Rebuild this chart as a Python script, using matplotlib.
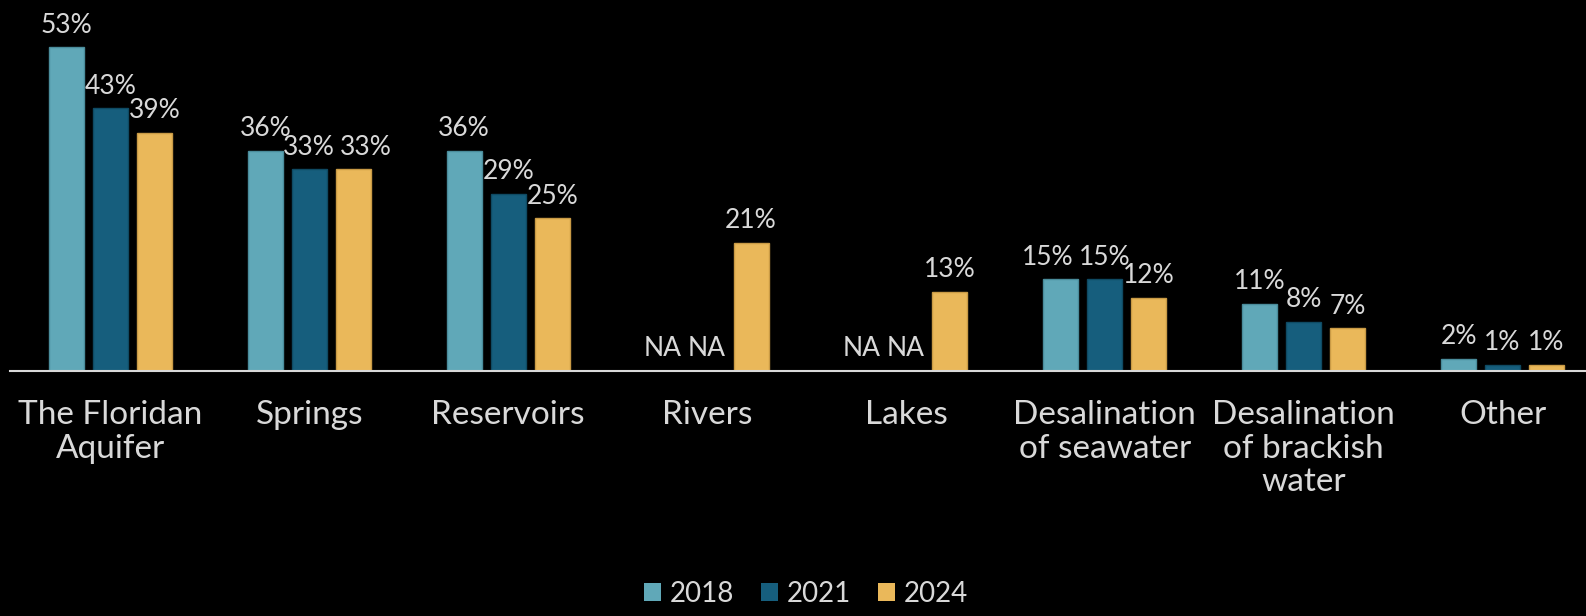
import numpy as np
import matplotlib
matplotlib.use("Agg")
import matplotlib.pyplot as plt
from matplotlib.patches import Patch
from matplotlib.transforms import offset_copy

# data
categories = ["The Floridan\nAquifer", "Springs", "Reservoirs", "Rivers", "Lakes",
              "Desalination\nof seawater", "Desalination\nof brackish\nwater", "Other"]
years = ["2018", "2021", "2024"]
v2018 = [53, 36, 36, None, None, 15, 11, 2]
v2021 = [43, 33, 29, None, None, 15, 8, 1]
v2024 = [39, 33, 25, 21, 13, 12, 7, 1]

colors = ["#60A8B8", "#165E7D", "#EAB85A"]
edges = ["#4a8c9b", "#0f4a63", "#c99a45"]
txt = "#d9d9d9"

plt.rcParams["font.family"] = ["Lato", "DejaVu Sans"]

fig = plt.figure(figsize=(15.86, 6.16), dpi=100, facecolor="black")
ax = fig.add_axes([10 / 1586, (616 - 371) / 616, 1576 / 1586, 371 / 616])
ax.set_facecolor("black")

x = np.arange(len(categories))
w = 35 / 199
step = 44 / 199
labels = [[] for _ in categories]
for i, (vals, c, ec) in enumerate(zip([v2018, v2021, v2024], colors, edges)):
    xs = x + (i - 1) * step
    h = [v if v is not None else 0 for v in vals]
    ax.bar(xs, h, width=w, color=c, edgecolor=ec, linewidth=1, label=years[i])
    for k, (xi, v) in enumerate(zip(xs, vals)):
        lab = f"{v}%" if v is not None else "NA"
        t = ax.text(xi, (v if v is not None else 0) + 2.4, lab, ha="center", va="baseline",
                    color=txt, fontsize=19)
        labels[k].append(t)

ax.set_xlim(-(110.5 - 10) / 199, 7 + (1586 - 1502.5) / 199)
ax.set_ylim(0, 371 / 6.11)
ax.set_xticks(x)
ax.set_xticklabels(categories, color=txt, fontsize=24, linespacing=1.15)
ax.tick_params(axis="x", length=0, pad=21)
ax.set_yticks([])
for s in ["top", "left", "right"]:
    ax.spines[s].set_visible(False)
ax.spines["bottom"].set_color(txt)
ax.spines["bottom"].set_linewidth(1.5)


def nudge(t, dx):
    t.set_transform(offset_copy(ax.transData, fig=fig, x=dx * 72 / fig.dpi, units="points"))


# labels on the same row that collide get pulled apart, like the original
fig.canvas.draw()
r = fig.canvas.get_renderer()
for grp in labels:
    boxes = [t.get_window_extent(r) for t in grp]
    for j in range(1, len(grp)):
        prev, bb = boxes[j - 1], boxes[j]
        if abs(bb.y0 - prev.y0) < 12 and bb.x0 < prev.x1 + 3:
            dx = prev.x1 - bb.x0 + 5
            moved = bb.translated(dx, 0)
            blocked = j + 1 < len(grp) and moved.overlaps(boxes[j + 1])
            if blocked:
                nudge(grp[j - 1], -dx)
                boxes[j - 1] = prev.translated(-dx, 0)
            else:
                nudge(grp[j], dx)
                boxes[j] = moved

handles = [Patch(facecolor=c, label=y) for c, y in zip(colors, years)]
leg = fig.legend(handles=handles, loc="center", bbox_to_anchor=(806 / 1586, 1 - 594 / 616),
                 ncol=3, frameon=False, fontsize=20, handlelength=0.6, handleheight=0.6,
                 handletextpad=0.3, columnspacing=1.0)
for t in leg.get_texts():
    t.set_color(txt)

fig.savefig("out.png", dpi=100, facecolor="black")
